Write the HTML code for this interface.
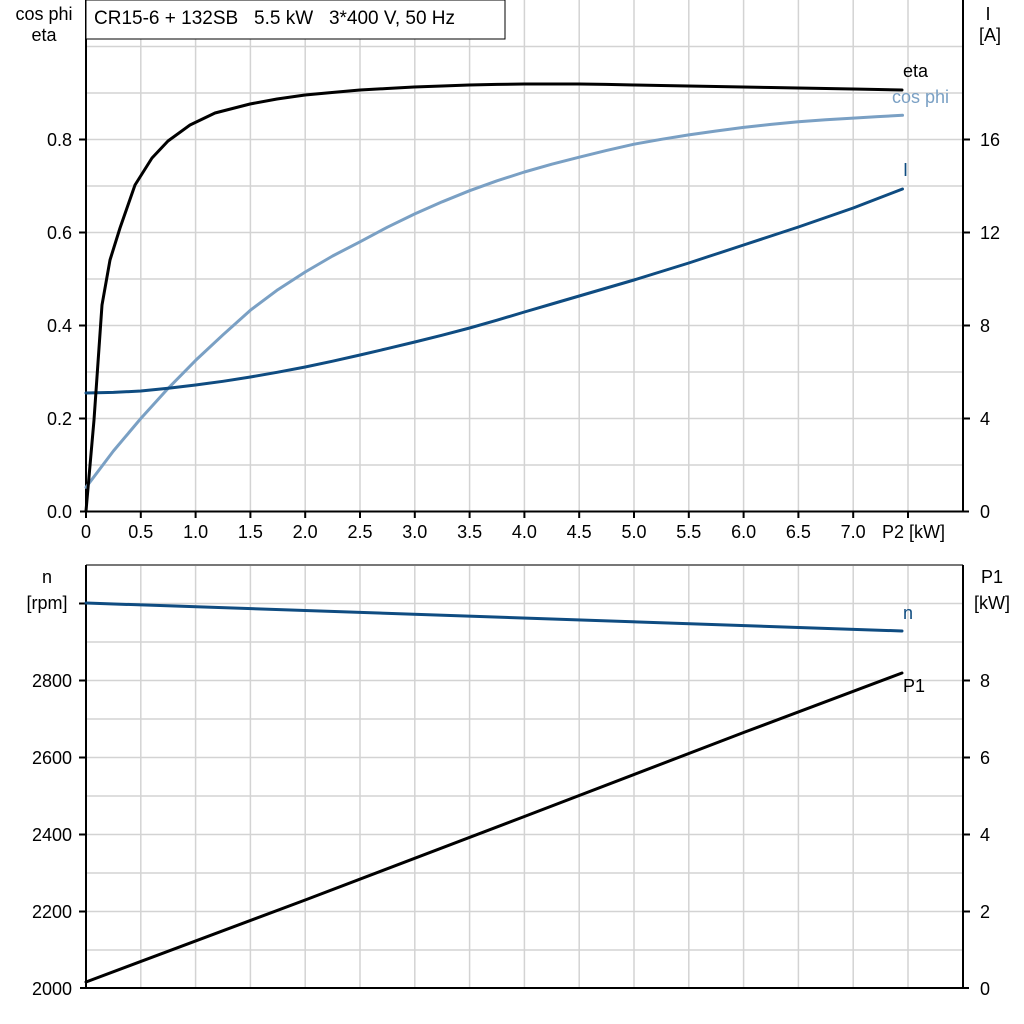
<!DOCTYPE html>
<html><head><meta charset="utf-8"><style>
html,body{margin:0;padding:0;background:#fff;}
svg{display:block;font-family:"Liberation Sans",Arial,sans-serif;}
</style></head><body>
<svg width="1024" height="1024" viewBox="0 0 1024 1024" xmlns="http://www.w3.org/2000/svg">
<rect width="1024" height="1024" fill="#fff"/>
<g stroke="#d3d3d3" stroke-width="1.5">
<line x1="140.8" y1="0" x2="140.8" y2="511"/><line x1="195.6" y1="0" x2="195.6" y2="511"/><line x1="250.4" y1="0" x2="250.4" y2="511"/><line x1="305.2" y1="0" x2="305.2" y2="511"/><line x1="360" y1="0" x2="360" y2="511"/><line x1="414.8" y1="0" x2="414.8" y2="511"/><line x1="469.6" y1="0" x2="469.6" y2="511"/><line x1="524.4" y1="0" x2="524.4" y2="511"/><line x1="579.2" y1="0" x2="579.2" y2="511"/><line x1="634" y1="0" x2="634" y2="511"/><line x1="688.8" y1="0" x2="688.8" y2="511"/><line x1="743.6" y1="0" x2="743.6" y2="511"/><line x1="798.4" y1="0" x2="798.4" y2="511"/><line x1="853.2" y1="0" x2="853.2" y2="511"/><line x1="908" y1="0" x2="908" y2="511"/>
<line x1="86" y1="46.5" x2="963" y2="46.5"/><line x1="86" y1="93" x2="963" y2="93"/><line x1="86" y1="139.5" x2="963" y2="139.5"/><line x1="86" y1="186" x2="963" y2="186"/><line x1="86" y1="232.5" x2="963" y2="232.5"/><line x1="86" y1="279" x2="963" y2="279"/><line x1="86" y1="325.5" x2="963" y2="325.5"/><line x1="86" y1="372" x2="963" y2="372"/><line x1="86" y1="418.5" x2="963" y2="418.5"/><line x1="86" y1="465" x2="963" y2="465"/>
<line x1="140.8" y1="565" x2="140.8" y2="988"/><line x1="195.6" y1="565" x2="195.6" y2="988"/><line x1="250.4" y1="565" x2="250.4" y2="988"/><line x1="305.2" y1="565" x2="305.2" y2="988"/><line x1="360" y1="565" x2="360" y2="988"/><line x1="414.8" y1="565" x2="414.8" y2="988"/><line x1="469.6" y1="565" x2="469.6" y2="988"/><line x1="524.4" y1="565" x2="524.4" y2="988"/><line x1="579.2" y1="565" x2="579.2" y2="988"/><line x1="634" y1="565" x2="634" y2="988"/><line x1="688.8" y1="565" x2="688.8" y2="988"/><line x1="743.6" y1="565" x2="743.6" y2="988"/><line x1="798.4" y1="565" x2="798.4" y2="988"/><line x1="853.2" y1="565" x2="853.2" y2="988"/><line x1="908" y1="565" x2="908" y2="988"/>
<line x1="86" y1="603.5" x2="963" y2="603.5"/><line x1="86" y1="642" x2="963" y2="642"/><line x1="86" y1="680.5" x2="963" y2="680.5"/><line x1="86" y1="719" x2="963" y2="719"/><line x1="86" y1="757.5" x2="963" y2="757.5"/><line x1="86" y1="796" x2="963" y2="796"/><line x1="86" y1="834.5" x2="963" y2="834.5"/><line x1="86" y1="873" x2="963" y2="873"/><line x1="86" y1="911.5" x2="963" y2="911.5"/><line x1="86" y1="950" x2="963" y2="950"/>
</g>
<line x1="86" y1="565" x2="963" y2="565" stroke="#777" stroke-width="2"/>
<g stroke="#000" stroke-width="2" fill="none">
<line x1="86" y1="0" x2="86" y2="512"/><line x1="963" y1="0" x2="963" y2="512"/><line x1="80" y1="511.5" x2="969" y2="511.5"/>
<line x1="86" y1="565" x2="86" y2="989"/><line x1="963" y1="565" x2="963" y2="989"/><line x1="80" y1="988" x2="969" y2="988"/>
<line x1="79" y1="139.5" x2="86" y2="139.5"/><line x1="79" y1="232.5" x2="86" y2="232.5"/><line x1="79" y1="325.5" x2="86" y2="325.5"/><line x1="79" y1="418.5" x2="86" y2="418.5"/>
<line x1="963" y1="139.5" x2="970" y2="139.5"/><line x1="963" y1="232.5" x2="970" y2="232.5"/><line x1="963" y1="325.5" x2="970" y2="325.5"/><line x1="963" y1="418.5" x2="970" y2="418.5"/>
<line x1="86" y1="511" x2="86" y2="518"/><line x1="140.8" y1="511" x2="140.8" y2="518"/><line x1="195.6" y1="511" x2="195.6" y2="518"/><line x1="250.4" y1="511" x2="250.4" y2="518"/><line x1="305.2" y1="511" x2="305.2" y2="518"/><line x1="360" y1="511" x2="360" y2="518"/><line x1="414.8" y1="511" x2="414.8" y2="518"/><line x1="469.6" y1="511" x2="469.6" y2="518"/><line x1="524.4" y1="511" x2="524.4" y2="518"/><line x1="579.2" y1="511" x2="579.2" y2="518"/><line x1="634" y1="511" x2="634" y2="518"/><line x1="688.8" y1="511" x2="688.8" y2="518"/><line x1="743.6" y1="511" x2="743.6" y2="518"/><line x1="798.4" y1="511" x2="798.4" y2="518"/><line x1="853.2" y1="511" x2="853.2" y2="518"/><line x1="908" y1="511" x2="908" y2="518"/>
<line x1="79" y1="603.5" x2="86" y2="603.5"/><line x1="79" y1="680.5" x2="86" y2="680.5"/><line x1="79" y1="757.5" x2="86" y2="757.5"/><line x1="79" y1="834.5" x2="86" y2="834.5"/><line x1="79" y1="911.5" x2="86" y2="911.5"/>
<line x1="963" y1="680.5" x2="970" y2="680.5"/><line x1="963" y1="757.5" x2="970" y2="757.5"/><line x1="963" y1="834.5" x2="970" y2="834.5"/><line x1="963" y1="911.5" x2="970" y2="911.5"/>
</g>
<g fill="none" stroke-width="3" stroke-linejoin="round" stroke-linecap="round">
<polyline stroke="#7aa0c4" points="86,487.3 113.4,451 140.8,418.5 168.2,388.3 195.6,360.4 223,334.8 250.4,310.2 277.8,289.7 305.2,272 332.6,256 360,241.8 387.4,227.2 414.8,213.9 442.2,201.8 469.6,190.7 497,180.8 524.4,172 551.8,164.2 579.2,157.2 606.6,150.4 634,144.2 661.4,139.3 688.8,134.9 716.2,131 743.6,127.4 771,124.4 798.4,121.8 825.8,119.8 853.2,118.1 877.8,116.6 902.5,115.3"/>
<polyline stroke="#0f4c81" points="86,393 113.4,392.4 140.8,391 168.2,388.3 195.6,385 223,381.3 250.4,377 277.8,372.2 305.2,367 332.6,361.2 360,355 387.4,348.6 414.8,342 442.2,335.2 469.6,328 497,320.2 524.4,312 551.8,304 579.2,296 606.6,288 634,280 661.4,271.5 688.8,263 716.2,254 743.6,245 771,236 798.4,227 825.8,217.5 853.2,208 877.8,198.5 902.5,189"/>
<polyline stroke="#000" points="86,511 94,420 102,305 110,260 120,228 135,185 152,158 168,141 190,125 215,113 250,104 277,99 305,95 332,92.5 360,90 387,88.5 414,87 442,86 469,85 497,84.4 524,84 551,84 579,84 606,84.4 634,85 661,85.5 688,86 716,86.5 743,87 771,87.5 798,88 826,88.5 853,89 878,89.5 902,90"/>
<line x1="86" y1="603" x2="902" y2="631" stroke="#0f4c81"/>
<polyline stroke="#000" points="86,982 305.2,900 524.4,816.5 743.6,732.5 902,673"/>
</g>
<rect x="86" y="0" width="419" height="39" fill="#fff" stroke="#000" stroke-width="1"/>
<text x="94" y="24" font-size="19" xml:space="preserve" style="white-space:pre">CR15-6 + 132SB   5.5 kW   3*400 V, 50 Hz</text>
<g font-size="18" fill="#000">
<text x="44" y="20" text-anchor="middle">cos phi</text><text x="44" y="41" text-anchor="middle">eta</text>
<text x="72" y="146" text-anchor="end">0.8</text><text x="72" y="239" text-anchor="end">0.6</text><text x="72" y="332" text-anchor="end">0.4</text><text x="72" y="425" text-anchor="end">0.2</text><text x="72" y="518" text-anchor="end">0.0</text>
<text x="988" y="20" text-anchor="middle">I</text><text x="990" y="41" text-anchor="middle">[A]</text>
<text x="980" y="146">16</text><text x="980" y="239">12</text><text x="980" y="332">8</text><text x="980" y="425">4</text><text x="980" y="518">0</text>
<g text-anchor="middle"><text x="86" y="538">0</text><text x="140.8" y="538">0.5</text><text x="195.6" y="538">1.0</text><text x="250.4" y="538">1.5</text><text x="305.2" y="538">2.0</text><text x="360" y="538">2.5</text><text x="414.8" y="538">3.0</text><text x="469.6" y="538">3.5</text><text x="524.4" y="538">4.0</text><text x="579.2" y="538">4.5</text><text x="634" y="538">5.0</text><text x="688.8" y="538">5.5</text><text x="743.6" y="538">6.0</text><text x="798.4" y="538">6.5</text><text x="853.2" y="538">7.0</text></g>
<text x="882" y="538">P2 [kW]</text>
<text x="47" y="583" text-anchor="middle">n</text><text x="47" y="609" text-anchor="middle">[rpm]</text>
<text x="72" y="687" text-anchor="end">2800</text><text x="72" y="764" text-anchor="end">2600</text><text x="72" y="841" text-anchor="end">2400</text><text x="72" y="918" text-anchor="end">2200</text><text x="72" y="995" text-anchor="end">2000</text>
<text x="992" y="583" text-anchor="middle">P1</text><text x="992" y="609" text-anchor="middle">[kW]</text>
<text x="980" y="687">8</text><text x="980" y="764">6</text><text x="980" y="841">4</text><text x="980" y="918">2</text><text x="980" y="995">0</text>
<text x="903" y="77">eta</text>
<text x="903" y="692">P1</text>
</g>
<text x="892" y="103" font-size="18" fill="#7aa0c4">cos phi</text>
<text x="903" y="176" font-size="18" fill="#0f4c81">I</text>
<text x="903" y="619" font-size="18" fill="#0f4c81">n</text>
</svg>
</body></html>
